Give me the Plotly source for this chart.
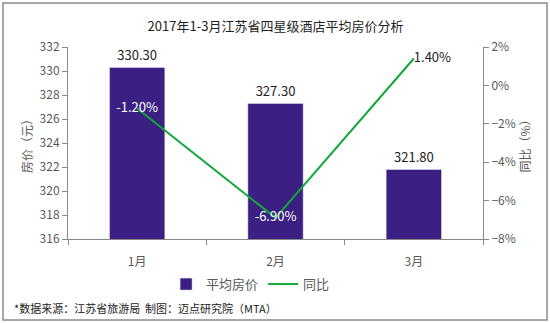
import plotly.graph_objects as go

months = ["1月", "2月", "3月"]
avg_price = [330.30, 327.30, 321.80]
yoy = [-1.20, -6.90, 1.40]
yoy_labels = ["-1.20%", "-6.90%", "1.40%"]
title = "2017年1-3月江苏省四星级酒店平均房价分析"
footnote = "*数据来源：江苏省旅游局  制图：迈点研究院（MTA）"

FONT = "Noto Sans CJK SC"
GREY = "#595959"

fig = go.Figure()
fig.add_trace(go.Bar(
    x=months, y=avg_price, name="平均房价",
    marker_color="#3B1F82", width=0.4,
    texttemplate="%{y:.2f}", textposition="outside",
    textfont=dict(size=13, color="#222222", family=FONT),
    cliponaxis=False,
))
fig.add_trace(go.Scatter(
    x=months, y=yoy, name="同比", yaxis="y2", mode="lines+text",
    line=dict(color="#12A83A", width=2),
    text=yoy_labels,
    textposition=["middle center", "middle center", "middle right"],
    textfont=dict(size=13, color=["white", "white", "#222222"], family=FONT),
    cliponaxis=False,
))

fig.update_layout(
    width=550, height=323,
    margin=dict(l=68, r=67, t=47, b=84),
    paper_bgcolor="white", plot_bgcolor="white",
    font=dict(family=FONT, color=GREY, size=12),
    showlegend=True,
    legend=dict(orientation="h", x=0.44, xanchor="center", y=-0.235, yanchor="middle",
                font=dict(size=13, color=GREY), itemwidth=30,
                traceorder="normal"),
    title=dict(text=title, x=0.5, xref="paper", y=1-26/323, yanchor="middle",
               font=dict(size=13, color="#222222", family=FONT)),
    xaxis=dict(showline=True, linecolor="#888888", linewidth=1,
               ticks="outside", tickcolor="#888888", ticklen=5,
               tickson="boundaries", ticklabelstandoff=12,
               tickfont=dict(size=12, color=GREY), showgrid=False),
    yaxis=dict(range=[316, 332], dtick=2, showline=True, linecolor="#888888",
               ticks="outside", tickcolor="#888888", ticklen=5, showgrid=False,
               zeroline=False,
               tickfont=dict(size=12, color=GREY),
               title=dict(text="房价（元）", font=dict(size=12, color=GREY), standoff=4)),
    yaxis2=dict(range=[-8, 2], dtick=2, overlaying="y", side="right",
                showline=True, linecolor="#888888",
                ticks="outside", tickcolor="#888888", ticklen=5, showgrid=False,
                zeroline=False, ticksuffix="%",
                tickfont=dict(size=12, color=GREY),
                title=dict(text="同比（%）", font=dict(size=12, color=GREY), standoff=6)),
    bargap=0.6,
)

fig.add_annotation(text=footnote, xref="paper", yref="paper",
                   x=(12 - 68) / 415, y=-69 / 192, xanchor="left", yanchor="middle",
                   showarrow=False, font=dict(size=11, color="#222222", family=FONT))

fig.add_shape(type="rect", xref="paper", yref="paper",
              x0=(3 - 68) / 415, x1=(547 - 68) / 415,
              y0=(239 - 320) / 192, y1=(239 - 3) / 192,
              line=dict(color="#8C8C8C", width=1.5))

fig.write_html("out.html")
